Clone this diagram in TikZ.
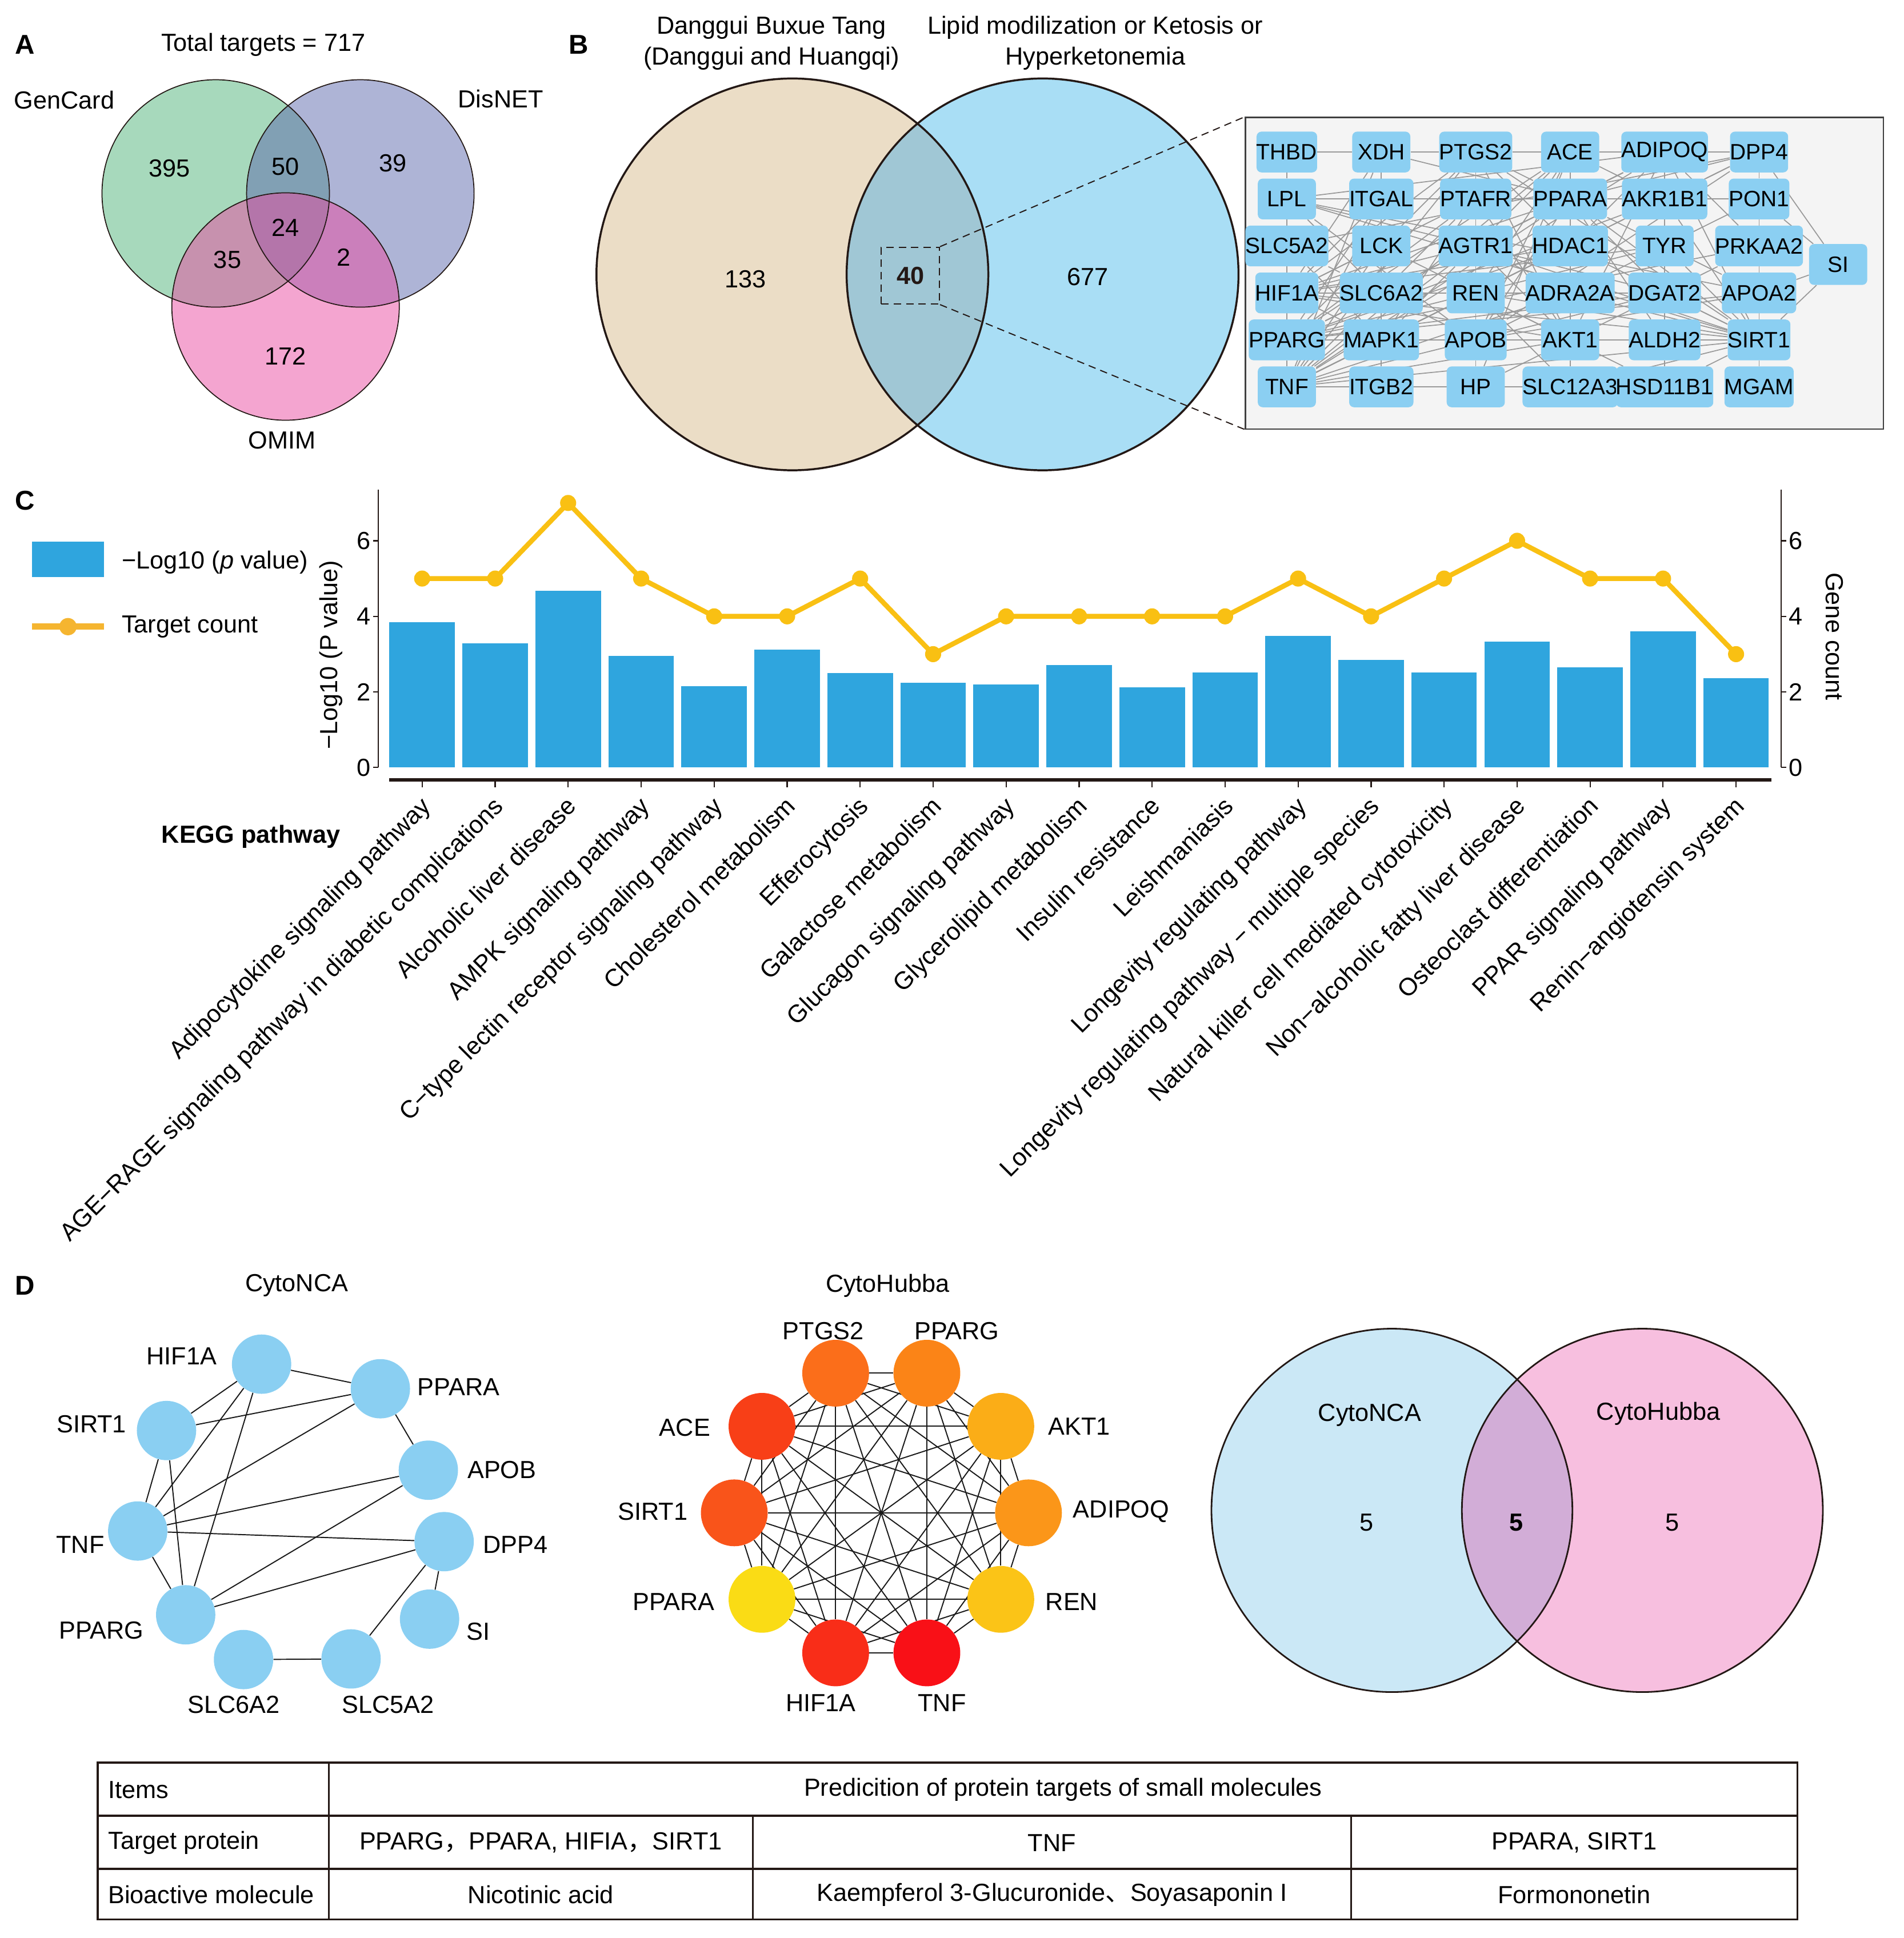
\documentclass[tikz,border=0pt]{standalone}
\usepackage{fontspec}
\setmainfont{Liberation Sans}
\newfontfamily\cjk{Noto Sans CJK SC}
\usetikzlibrary{positioning}

\definecolor{linedark}{HTML}{231815}
\definecolor{vgreen}{RGB}{79,179,121}
\definecolor{vblue}{RGB}{93,105,173}
\definecolor{vpink}{RGB}{233,75,161}
\definecolor{dbtan}{HTML}{EBDDC6}
\definecolor{lipblue}{HTML}{A9DEF5}
\definecolor{lapblue}{HTML}{A0C7D5}
\definecolor{netbg}{HTML}{F4F4F4}
\definecolor{netnode}{HTML}{8BCFF2}
\definecolor{barblue}{HTML}{2FA5DE}
\definecolor{countgold}{HTML}{F9C013}
\definecolor{legendgold}{HTML}{F5B530}
\definecolor{ncablue}{HTML}{8ACFF2}
\definecolor{ncaven}{HTML}{CBE8F6}
\definecolor{hubven}{HTML}{F7BFDF}
\definecolor{lapven}{HTML}{D2ADD7}

\pgfdeclarelayer{edges}
\pgfsetlayers{edges,main}

\tikzstyle{panel} = [font=\fontsize{22}{26}\selectfont\bfseries]
\tikzstyle{gene} = [rectangle, rounded corners=4pt, minimum width=47pt, minimum height=33pt, inner sep=0pt, fill=netnode, font=\fontsize{18}{20}\selectfont]
\tikzstyle{link} = [draw=gray!80, line width=0.8pt]
\tikzstyle{ncadot} = [circle, minimum size=48pt, inner sep=0pt, fill=ncablue]
\tikzstyle{hubdot} = [circle, minimum size=54pt, inner sep=0pt]
\tikzstyle{tie} = [draw=black!90, line width=0.9pt]
\tikzstyle{vennline} = [draw=linedark, line width=1.6pt]
\tikzstyle{tabrule} = [draw=linedark, line width=1.6pt]
\tikzstyle{xlab} = [rotate=45, anchor=north east, inner sep=0pt]
\tikzstyle{zoomdash} = [linedark, line width=0.9pt, dash pattern=on 6pt off 4pt]

\begin{document}
\begin{tikzpicture}[x=1pt, y=-1pt, font=\fontsize{20}{25}\selectfont, node distance=38pt]
\useasboundingbox (0,0) rectangle (1540,1568);

% A: three-set venn
\node[panel] (pA) at (20,36) {A};
\node (atitle) at (213,36) {Total targets = 717};
\fill[vgreen, fill opacity=0.5] (174.5,156.5) circle (92pt);
\fill[vblue, fill opacity=0.5] (291.5,156.5) circle (92pt);
\fill[vpink, fill opacity=0.5] (231,248) circle (92pt);
\draw[linedark, line width=0.8pt] (174.5,156.5) circle (92pt) (291.5,156.5) circle (92pt) (231,248) circle (92pt);
\node (gencard) at (52,81) {GenCard};
\node (disnet) at (405,80) {DisNET};
\node (omim) at (228,356) {OMIM};
\node (a395) at (137,136) {395};
\node (a50) at (231,135) {50};
\node (a39) at (318,132) {39};
\node (a24) at (231,184) {24};
\node (a35) at (184,210) {35};
\node (a2) at (278,208) {2};
\node (a172) at (231,288) {172};

% B: two-set venn and the 40 shared targets
\node[panel] (pB) at (468,36) {B};
\node[align=center] (setL) at (624,35) {Danggui Buxue Tang\\(Danggui and Huangqi)};
\node[align=center] (setR) at (886,35) {Lipid modilization or Ketosis or\\Hyperketonemia};
\fill[dbtan] (641,222) circle (158.5pt);
\fill[lipblue] (843.4,222) circle (158.5pt);
\begin{scope}
  \clip (641,222) circle (158.5pt);
  \fill[lapblue] (843.4,222) circle (158.5pt);
\end{scope}
\draw[vennline] (641,222) circle (158.5pt) (843.4,222) circle (158.5pt);
\node (b133) at (603,226) {133};
\node (b677) at (880,224) {677};
\node[draw, zoomdash, minimum width=47pt, minimum height=46pt] (zoombox) at (736.5,223) {\textbf{40}};

\node[gene] (THBD) at (1041,123) {THBD};
\node[gene, below of=THBD] (LPL) {LPL};
\node[gene, below of=LPL] (SLC5A2) {SLC5A2};
\node[gene, below of=SLC5A2] (HIF1A) {HIF1A};
\node[gene, below of=HIF1A] (PPARG) {PPARG};
\node[gene, below of=PPARG] (TNF) {TNF};
\node[gene, right of=THBD, xshift=38.4pt] (XDH) {XDH};
\node[gene, below of=XDH] (ITGAL) {ITGAL};
\node[gene, below of=ITGAL] (LCK) {LCK};
\node[gene, below of=LCK] (SLC6A2) {SLC6A2};
\node[gene, below of=SLC6A2] (MAPK1) {MAPK1};
\node[gene, below of=MAPK1] (ITGB2) {ITGB2};
\node[gene, right of=XDH, xshift=38.4pt] (PTGS2) {PTGS2};
\node[gene, below of=PTGS2] (PTAFR) {PTAFR};
\node[gene, below of=PTAFR] (AGTR1) {AGTR1};
\node[gene, below of=AGTR1] (REN) {REN};
\node[gene, below of=REN] (APOB) {APOB};
\node[gene, below of=APOB] (HP) {HP};
\node[gene, right of=PTGS2, xshift=38.4pt] (ACE) {ACE};
\node[gene, below of=ACE] (PPARA) {PPARA};
\node[gene, below of=PPARA] (HDAC1) {HDAC1};
\node[gene, below of=HDAC1] (ADRA2A) {ADRA2A};
\node[gene, below of=ADRA2A] (AKT1) {AKT1};
\node[gene, below of=AKT1] (SLC12A3) {SLC12A3};
\node[gene, right of=ACE, xshift=38.4pt] (ADIPOQ) {ADIPOQ};
\node[gene, below of=ADIPOQ] (AKR1B1) {AKR1B1};
\node[gene, below of=AKR1B1] (TYR) {TYR};
\node[gene, below of=TYR] (DGAT2) {DGAT2};
\node[gene, below of=DGAT2] (ALDH2) {ALDH2};
\node[gene, below of=ALDH2] (HSD11B1) {HSD11B1};
\node[gene, right of=ADIPOQ, xshift=38.4pt] (DPP4) {DPP4};
\node[gene, below of=DPP4] (PON1) {PON1};
\node[gene, below of=PON1] (PRKAA2) {PRKAA2};
\node[gene, below of=PRKAA2] (APOA2) {APOA2};
\node[gene, below of=APOA2] (SIRT1) {SIRT1};
\node[gene, below of=SIRT1] (MGAM) {MGAM};
\node[gene] (SI) at (1487,214) {SI};

\begin{pgfonlayer}{edges}
\node[draw=black!75, line width=1pt, fill=netbg, minimum width=516pt, minimum height=252pt, inner sep=0pt] (netbox) at (1265.5,221) {};
\foreach \a/\b in {THBD/XDH, THBD/LPL, XDH/PTGS2, XDH/LCK, XDH/PPARA, XDH/TNF, XDH/HIF1A,
  PTGS2/ACE, PTGS2/PPARA, PTGS2/AKT1, PTGS2/HDAC1, PTGS2/TNF, PTGS2/PPARG, PTGS2/HIF1A, PTGS2/REN, PTGS2/SIRT1,
  ACE/ADIPOQ, ACE/AGTR1, ACE/REN, ACE/DPP4, ACE/PPARG, ACE/TNF, ACE/AKT1, ACE/HP, ACE/AKR1B1, ACE/ADRA2A, ACE/APOB,
  ADIPOQ/DPP4, ADIPOQ/PPARA, ADIPOQ/PPARG, ADIPOQ/SIRT1, ADIPOQ/AKT1, ADIPOQ/TNF, ADIPOQ/LPL, ADIPOQ/PRKAA2, ADIPOQ/DGAT2, ADIPOQ/HDAC1, ADIPOQ/AGTR1,
  DPP4/SI, DPP4/PON1, DPP4/AKR1B1, DPP4/PPARA, DPP4/SLC5A2, DPP4/TNF, DPP4/APOB,
  LPL/ITGAL, LPL/PPARA, LPL/APOB, LPL/APOA2, LPL/PPARG, LPL/SLC6A2, LPL/DGAT2, LPL/SIRT1, LPL/PTAFR,
  ITGAL/TNF, ITGAL/ITGB2, ITGAL/LCK, ITGAL/HIF1A, ITGAL/PPARG,
  PTAFR/TNF, PTAFR/PPARG, PTAFR/MAPK1, PTAFR/AKT1, PTAFR/HIF1A,
  PPARA/PPARG, PPARA/SIRT1, PPARA/APOB, PPARA/APOA2, PPARA/HDAC1, PPARA/AKR1B1, PPARA/TNF, PPARA/HIF1A, PPARA/DGAT2, PPARA/ALDH2, PPARA/PON1,
  AKR1B1/SIRT1, AKR1B1/TNF, AKR1B1/PPARG, AKR1B1/ALDH2,
  PON1/SI, PON1/PRKAA2, PON1/APOA2, PON1/APOB,
  SLC5A2/HIF1A, SLC5A2/SLC6A2, SLC5A2/MAPK1,
  LCK/TNF, LCK/MAPK1, LCK/HIF1A, LCK/ITGB2, LCK/AKT1,
  AGTR1/TNF, AGTR1/PPARG, AGTR1/REN, AGTR1/AKT1, AGTR1/HIF1A, AGTR1/MAPK1, AGTR1/ADRA2A, AGTR1/SIRT1,
  HDAC1/SIRT1, HDAC1/HIF1A, HDAC1/TNF, HDAC1/AKT1, HDAC1/PPARG, HDAC1/MAPK1,
  TYR/SIRT1, TYR/PPARG, TYR/HIF1A,
  PRKAA2/SIRT1, PRKAA2/AKT1, PRKAA2/PPARG,
  HIF1A/PPARG, HIF1A/MAPK1, HIF1A/AKT1, HIF1A/SIRT1, HIF1A/SLC6A2, HIF1A/REN,
  SLC6A2/TNF, SLC6A2/MAPK1, SLC6A2/APOB,
  REN/TNF, REN/ADRA2A, REN/HSD11B1, REN/SLC12A3, REN/SIRT1, REN/APOB,
  ADRA2A/TNF, ADRA2A/SIRT1, ADRA2A/DGAT2,
  DGAT2/SIRT1, DGAT2/PPARG, DGAT2/APOB,
  APOA2/SI, APOA2/SIRT1, APOA2/APOB, APOA2/PPARG,
  PPARG/TNF, PPARG/MAPK1, PPARG/SIRT1, PPARG/APOB, PPARG/AKT1, PPARG/ALDH2,
  MAPK1/TNF, MAPK1/AKT1, MAPK1/SIRT1,
  APOB/HP, APOB/TNF, APOB/SIRT1,
  AKT1/TNF, AKT1/SIRT1, AKT1/SLC12A3, AKT1/ALDH2,
  ALDH2/SIRT1, ALDH2/HSD11B1,
  SIRT1/SI, SIRT1/MGAM, SIRT1/TNF, SIRT1/HSD11B1, SIRT1/SLC12A3,
  TNF/ITGB2, TNF/HP, TNF/SLC12A3, TNF/HSD11B1, ITGB2/HP, HP/AKT1}
  \draw[link] (\a) -- (\b);
\end{pgfonlayer}
\draw[zoomdash] (zoombox.north east) -- (netbox.north west);
\draw[zoomdash] (zoombox.south east) -- (netbox.south west);

% C: KEGG pathways, bars and target counts
\node[panel] (pC) at (20,405) {C};
\fill[barblue] (26,438) rectangle (84,467);
\node[anchor=west] (legbar) at (95,455) {−Log10 (\textit{p} value)};
\draw[legendgold, line width=5pt] (26,507) -- (84,507);
\fill[legendgold] (55,507) circle (7pt);
\node[anchor=west] (legline) at (95,507) {Target count};

\foreach \h [count=\i] in {3.85,3.29,4.67,2.95,2.16,3.12,2.50,2.24,2.20,2.71,2.12,2.52,3.49,2.85,2.51,3.33,2.65,3.61,2.36}
  \fill[barblue] ({315+59.05*(\i-1)},621) rectangle ++(53,-\h*30.58);
\foreach \c [count=\i] in {5,5,7,5,4,4,5,3,4,4,4,4,5,4,5,6,5,5,3}
  \coordinate (t\i) at ({341.5+59.05*(\i-1)},{621-\c*30.58});
\draw[countgold, line width=4pt, line join=round] (t1) \foreach \i in {2,...,19}{ -- (t\i)};
\foreach \i in {1,...,19} \fill[countgold] (t\i) circle (6.5pt);

\draw[linedark, line width=1pt] (306,396) -- (306,621);
\draw[linedark, line width=1pt] (1441,396) -- (1441,621);
\draw[linedark, line width=2.5pt] (315,631) -- (1433,631);
\foreach \v in {0,2,4,6} {
  \draw[linedark, line width=1pt] (302,{621-\v*30.58}) -- (306,{621-\v*30.58});
  \node[anchor=east, inner sep=1pt] (yl\v) at (301,{621-\v*30.58}) {\v};
  \draw[linedark, line width=1pt] (1441,{621-\v*30.58}) -- (1445,{621-\v*30.58});
  \node[anchor=west, inner sep=1pt] (yr\v) at (1446,{621-\v*30.58}) {\v};
}
\foreach \i in {1,...,19} \draw[linedark, line width=1pt] ({341.5+59.05*(\i-1)},631) -- ++(0,6);
\node[rotate=90] (ylab) at (268,530) {−Log10 (P value)};
\node[rotate=-90] (glab) at (1484,515) {Gene count};
\node[font=\fontsize{20}{25}\selectfont\bfseries] (kegg) at (203,677) {KEGG pathway};
\foreach \lab [count=\i] in {Adipocytokine signaling pathway, AGE−RAGE signaling pathway in diabetic complications, Alcoholic liver disease, AMPK signaling pathway, C−type lectin receptor signaling pathway, Cholesterol metabolism, Efferocytosis, Galactose metabolism, Glucagon signaling pathway, Glycerolipid metabolism, Insulin resistance, Leishmaniasis, Longevity regulating pathway, Longevity regulating pathway − multiple species, Natural killer cell mediated cytotoxicity, Non−alcoholic fatty liver disease, Osteoclast differentiation, PPAR signaling pathway, Renin−angiotensin system}
  \node[xlab] (x\i) at ({339+59.05*(\i-1)},643) {\lab};

% D: hub genes
\node[panel] (pD) at (20,1040) {D};
\node (ncatitle) at (240,1040) {CytoNCA};
\node (hubtitle) at (718,1040) {CytoHubba};

\node[ncadot] (cHIF1A) at (211.6,1103.7) {};
\node[ncadot] (cPPARA) at (307.7,1123.6) {};
\node[ncadot] (cSIRT1) at (134.7,1157.4) {};
\node[ncadot] (cAPOB) at (346.5,1189.5) {};
\node[ncadot] (cTNF) at (111.4,1238.7) {};
\node[ncadot] (cDPP4) at (359.3,1247.3) {};
\node[ncadot] (cPPARG) at (150.2,1306.5) {};
\node[ncadot] (cSI) at (347.5,1310) {};
\node[ncadot] (cSLC6A2) at (197,1342.7) {};
\node[ncadot] (cSLC5A2) at (284,1342.2) {};
\node (cHIF1Alab) at (147,1097) {HIF1A};
\node (cPPARAlab) at (371,1122) {PPARA};
\node (cSIRT1lab) at (74,1152) {SIRT1};
\node (cAPOBlab) at (406,1189) {APOB};
\node (cTNFlab) at (65,1250) {TNF};
\node (cDPP4lab) at (417,1250) {DPP4};
\node (cPPARGlab) at (82,1319) {PPARG};
\node (cSIlab) at (387,1320) {SI};
\node (cSLC6A2lab) at (189,1379) {SLC6A2};
\node (cSLC5A2lab) at (314,1379) {SLC5A2};
\begin{pgfonlayer}{edges}
\foreach \a/\b in {HIF1A/PPARA, HIF1A/SIRT1, HIF1A/TNF, HIF1A/PPARG, SIRT1/PPARA, SIRT1/TNF, SIRT1/PPARG,
  PPARA/TNF, PPARA/APOB, APOB/TNF, APOB/PPARG, TNF/DPP4, TNF/PPARG, DPP4/PPARG, DPP4/SI, DPP4/SLC5A2, SLC6A2/SLC5A2}
  \draw[tie] (c\a) -- (c\b);
\end{pgfonlayer}

\node[hubdot, fill={rgb,255:red,251;green,110;blue,26}] (hPTGS2) at (676,1111) {};
\node[hubdot, fill={rgb,255:red,251;green,132;blue,23}] (hPPARG) at (749.8,1111) {};
\node[hubdot, fill={rgb,255:red,248;green,63;blue,23}] (hACE) at (616.4,1154) {};
\node[hubdot, fill={rgb,255:red,251;green,173;blue,23}] (hAKT1) at (809.6,1154) {};
\node[hubdot, fill={rgb,255:red,249;green,84;blue,26}] (hSIRT1) at (594,1224) {};
\node[hubdot, fill={rgb,255:red,251;green,150;blue,25}] (hADIPOQ) at (832,1224) {};
\node[hubdot, fill={rgb,255:red,250;green,220;blue,21}] (hPPARA) at (616.4,1294) {};
\node[hubdot, fill={rgb,255:red,251;green,196;blue,23}] (hREN) at (809.6,1294) {};
\node[hubdot, fill={rgb,255:red,249;green,45;blue,24}] (hHIF1A) at (676,1337.3) {};
\node[hubdot, fill={rgb,255:red,249;green,16;blue,23}] (hTNF) at (749.8,1337.3) {};
\node (hPTGS2lab) at (666,1077) {PTGS2};
\node (hPPARGlab) at (774,1077) {PPARG};
\node (hACElab) at (554,1155) {ACE};
\node (hAKT1lab) at (873,1154) {AKT1};
\node (hSIRT1lab) at (528,1223) {SIRT1};
\node (hADIPOQlab) at (907,1223) {ADIPOQ};
\node (hPPARAlab) at (545,1296) {PPARA};
\node (hRENlab) at (867,1296) {REN};
\node (hHIF1Alab) at (664,1378) {HIF1A};
\node (hTNFlab) at (762,1378) {TNF};
\begin{pgfonlayer}{edges}
\foreach \a [count=\i] in {PTGS2,PPARG,AKT1,ADIPOQ,REN,TNF,HIF1A,PPARA,SIRT1,ACE}
  \foreach \b [count=\j] in {PTGS2,PPARG,AKT1,ADIPOQ,REN,TNF,HIF1A,PPARA,SIRT1,ACE}
    {\ifnum\j>\i \draw[tie] (h\a) -- (h\b); \fi}
\end{pgfonlayer}

\fill[ncaven] (1126,1222) ellipse (146pt and 147pt);
\fill[hubven] (1328.6,1222) ellipse (146pt and 147pt);
\begin{scope}
  \clip (1126,1222) ellipse (146pt and 147pt);
  \fill[lapven] (1328.6,1222) ellipse (146pt and 147pt);
\end{scope}
\draw[linedark, line width=1.3pt] (1126,1222) ellipse (146pt and 147pt) (1328.6,1222) ellipse (146pt and 147pt);
\node (vnca) at (1108,1145) {CytoNCA};
\node (vhub) at (1341.5,1144) {CytoHubba};
\node (vl5) at (1105.6,1232) {5};
\node (vm5) at (1226.7,1232) {\textbf{5}};
\node (vr5) at (1353,1232) {5};

% table of predicted targets
\draw[tabrule] (79,1426) rectangle (1454,1553);
\draw[tabrule] (79,1469) -- (1454,1469);
\draw[tabrule] (79,1512) -- (1454,1512);
\draw[tabrule] (266,1426) -- (266,1553);
\draw[tabrule] (609,1469) -- (609,1553);
\draw[tabrule] (1093,1469) -- (1093,1553);
\node[anchor=west] (items) at (84,1448) {Items};
\node (pred) at (860,1448) {Predicition of protein targets of small molecules};
\node[anchor=west] (tprot) at (84,1491) {Target protein};
\node (tp1) at (437.5,1491) {PPARG{\cjk ，}PPARA, HIFIA{\cjk ，}SIRT1};
\node (tp2) at (851,1491) {TNF};
\node (tp3) at (1273.5,1491) {PPARA, SIRT1};
\node[anchor=west] (bmol) at (84,1533) {Bioactive molecule};
\node (bm1) at (437.5,1533) {Nicotinic acid};
\node (bm2) at (851,1533) {Kaempferol 3-Glucuronide{\cjk 、}Soyasaponin I};
\node (bm3) at (1273.5,1533) {Formononetin};
\end{tikzpicture}
\end{document}
